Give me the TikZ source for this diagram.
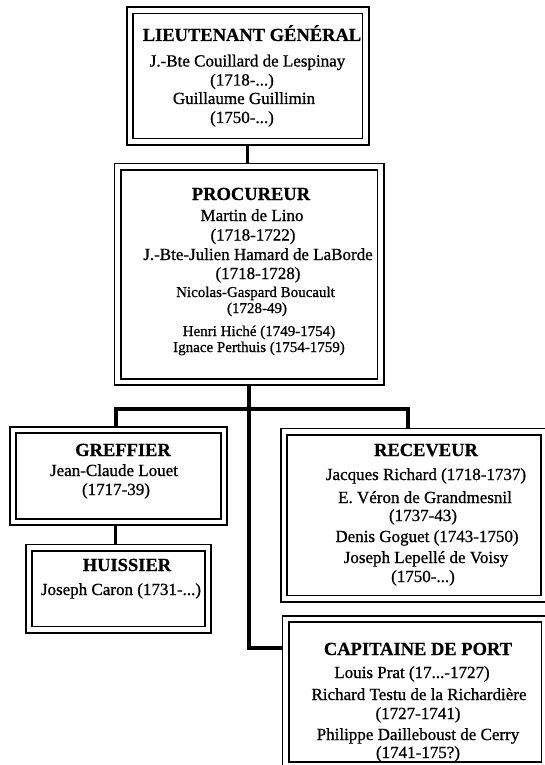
\documentclass[tikz,border=0pt]{standalone}
\usepackage{fontspec}
\setmainfont{Liberation Serif}
\newfontfamily\namefont{Liberation Serif}[FakeBold=0.9]
\newfontfamily\titlefont{Liberation Serif Bold}[FakeBold=0.6]
\usetikzlibrary{backgrounds}
\begin{document}
\begin{tikzpicture}[x=1pt,y=-1pt,
  box/.style={draw, line width=1.8pt, double=white, double distance=4.4pt, inner sep=0pt, outer sep=0pt},
  conn/.style={line width=3.4pt},
  ttl/.style={anchor=base, inner sep=0pt, font=\titlefont\fontsize{18.5}{20}\selectfont},
  ln/.style={anchor=base, inner sep=0pt, font=\namefont\fontsize{17}{19}\selectfont},
  sm/.style={anchor=base, inner sep=0pt, font=\namefont\fontsize{15}{17}\selectfont}]
\useasboundingbox (0,0) rectangle (544,765);

% boxes
\node[box, minimum width=235.5pt, minimum height=131pt] (lt) at (247.75,76) {};
\node[box, minimum width=263pt, minimum height=215.5pt] (pr) at (249,274.25) {};
\node[box, minimum width=211pt, minimum height=92pt] (gr) at (118.5,476) {};
\node[box, minimum width=179pt, minimum height=82pt] (hu) at (118.5,588.5) {};
\node[box, minimum width=260pt, minimum height=167pt] (rc) at (414,515) {};
\node[box, minimum width=259pt, minimum height=146pt] (ca) at (415,692) {};

% connectors
\begin{scope}[on background layer]
\coordinate (barL) at (116,409);
\coordinate (barR) at (408,409);
\coordinate (cj) at (249,648);
\draw[conn] (lt.south) -- (lt.south |- pr.north);
\draw[conn] (pr.south) -- (pr.south |- cj) -- (ca.west |- cj);
\draw[conn] (gr.north -| barL) -- (barL) -- (barR) -- (rc.north -| barR);
\draw[conn] ([xshift=-3pt]gr.south) -- ([xshift=-3pt]hu.north);
\end{scope}

% Lieutenant general
\node[ttl] (lt0) at (252,41) {LIEUTENANT GÉNÉRAL};
\node[ln] (lt1) at (247.5,66.5) {J.-Bte Couillard de Lespinay};
\node[ln] (lt2) at (242,85.5) {(1718-...)};
\node[ln] (lt3) at (244,104) {Guillaume Guillimin};
\node[ln] (lt4) at (242,123) {(1750-...)};

% Procureur
\node[ttl] (pr0) at (251,200) {PROCUREUR};
\node[ln] (pr1) at (252,221) {Martin de Lino};
\node[ln] (pr2) at (253,240.5) {(1718-1722)};
\node[ln] (pr3) at (258,260) {J.-Bte-Julien Hamard de LaBorde};
\node[ln] (pr4) at (258,279) {(1718-1728)};
\node[sm] (pr5) at (255.5,297) {Nicolas-Gaspard Boucault};
\node[sm] (pr6) at (257,313) {(1728-49)};
\node[sm] (pr7) at (259,336) {Henri Hiché (1749-1754)};
\node[sm] (pr8) at (259,352) {Ignace Perthuis (1754-1759)};

% Greffier
\node[ttl] (gr0) at (123,456) {GREFFIER};
\node[ln] (gr1) at (114,476) {Jean-Claude Louet};
\node[ln] (gr2) at (116,495) {(1717-39)};

% Huissier
\node[ttl] (hu0) at (127,571) {HUISSIER};
\node[ln] (hu1) at (121,595) {Joseph Caron (1731-...)};

% Receveur
\node[ttl] (rc0) at (426,456) {RECEVEUR};
\node[ln] (rc1) at (426,480) {Jacques Richard (1718-1737)};
\node[ln] (rc2) at (425,503) {E. Véron de Grandmesnil};
\node[ln] (rc3) at (423,521) {(1737-43)};
\node[ln] (rc4) at (427,542) {Denis Goguet (1743-1750)};
\node[ln] (rc5) at (426,563) {Joseph Lepellé de Voisy};
\node[ln] (rc6) at (423,582) {(1750-...)};

% Capitaine de port
\node[ttl] (ca0) at (418,655) {CAPITAINE DE PORT};
\node[ln] (ca1) at (412,678) {Louis Prat (17...-1727)};
\node[ln] (ca2) at (419,700) {Richard Testu de la Richardière};
\node[ln] (ca3) at (418,719) {(1727-1741)};
\node[ln] (ca4) at (418,740) {Philippe Dailleboust de Cerry};
\node[ln] (ca5) at (418,758) {(1741-175?)};
\end{tikzpicture}
\end{document}
